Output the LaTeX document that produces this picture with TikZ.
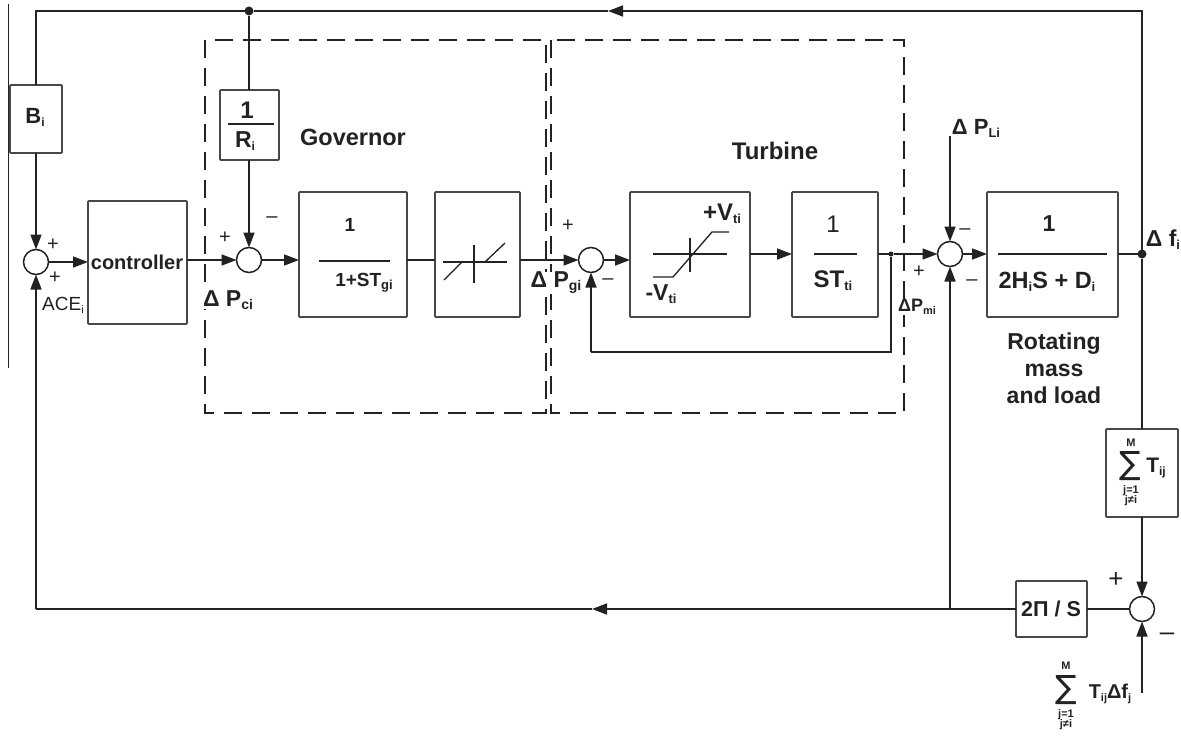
\documentclass[tikz,border=0pt]{standalone}
\usepackage{fontspec}
\setmainfont{Liberation Sans}
\newfontfamily\sigmafont{DejaVu Sans}
\usetikzlibrary{arrows.meta}
\newcommand{\dn}[2]{\raisebox{-3pt}{\fontsize{#1}{#1}\selectfont #2}}
\newcommand{\fs}[1]{\fontsize{#1}{#1}\selectfont}
\definecolor{ink}{HTML}{222222}
\definecolor{boxline}{HTML}{484848}
\tikzset{
  blockbox/.style={draw=boxline,line width=1.8pt,rounded corners=0.8pt,inner sep=0pt,outer sep=0pt,fill=white},
  sumcirc/.style={circle,draw=ink,line width=1.5pt,minimum size=25pt,inner sep=0pt,outer sep=0pt},
  wire/.style={draw=ink,line width=1.6pt},
  arr/.style={wire,-{Triangle[length=15pt,width=11pt]}},
  fracbar/.style={draw=ink,line width=1.6pt},
  thin symbol/.style={draw=ink,line width=1.3pt},
  dashbox/.style={draw=ink,line width=1.9pt,dash pattern=on 18pt off 10pt},
  lab/.style={inner sep=0pt,outer sep=0pt,text=ink,font=\bfseries\fs{20}},
  labr/.style={inner sep=0pt,outer sep=0pt,text=ink,font=\fs{19}},
  sgn/.style={inner sep=0pt,outer sep=0pt,text=ink,font=\fs{20}},
  dotj/.style={circle,fill=ink,minimum size=#1,inner sep=0pt,outer sep=0pt},
  tiny lab/.style={inner sep=0pt,outer sep=0pt,text=ink,font=\bfseries\fs{11}},
}
\begin{document}
\begin{tikzpicture}[x=1pt,y=-1pt]
\useasboundingbox[fill=white] (0,0) rectangle (1181,736);

% dashed enclosures
\draw[dashbox] (205,40) rectangle (546,413);
\draw[dashbox] (551,40) rectangle (904,413);

% blocks
\node[blockbox,minimum width=52pt,minimum height=68pt] (bi) at (36,119) {};
\node[blockbox,minimum width=99pt,minimum height=123pt] (ctrl) at (137.5,262.5) {};
\node[blockbox,minimum width=59pt,minimum height=70pt] (ri) at (249.5,125) {};
\node[blockbox,minimum width=108pt,minimum height=125pt] (gov) at (353,254.5) {};
\node[blockbox,minimum width=85pt,minimum height=125pt] (dead) at (477.5,254.5) {};
\node[blockbox,minimum width=120pt,minimum height=125pt] (sat) at (690,254.5) {};
\node[blockbox,minimum width=86pt,minimum height=125pt] (sti) at (835,254.5) {};
\node[blockbox,minimum width=131pt,minimum height=125pt] (rot) at (1052.5,254.5) {};
\node[blockbox,minimum width=72pt,minimum height=88pt] (tij) at (1142,473) {};
\node[blockbox,minimum width=71pt,minimum height=56pt] (int) at (1051.5,609) {};

% summing junctions
\node[sumcirc] (s1) at (36,262) {};
\node[sumcirc] (s2) at (249,260) {};
\node[sumcirc] (s3) at (591,260) {};
\node[sumcirc] (s4) at (950,254) {};
\node[sumcirc] (s5) at (1142,609) {};

% junction dots and free ends
\node[dotj=9pt] (jtop) at (249,11) {};
\node[dotj=5pt] (jpm) at (891,254) {};
\node[dotj=9pt] (jf) at (1142,254) {};
\coordinate (corner) at (36,11);
\coordinate (topmid) at (608,11);
\coordinate (botmid) at (592,609);
\coordinate (botcorner) at (36,609);
\coordinate (plin) at (950,136);
\coordinate (tin) at (1142,693);
\coordinate (fbk) at (591,352);

% signal labels that interrupt the dashed enclosures
\node[lab,font=\bfseries\fs{23},fill=white] (lpc) at (228,300) {Δ P\dn{14}{ci}};
\node[lab,font=\bfseries\fs{23},fill=white] (lpg) at (556,283) {Δ P\dn{14}{gi}};
\node[lab,font=\bfseries\fs{18},fill=white] (lpm) at (917,307) {ΔP\dn{11}{mi}};

% connectors
\draw[arr] (jf) |- (topmid);
\draw[wire] (topmid) -- (jtop);
\draw[wire] (jtop) -- (corner) -- (bi.north -| corner);
\draw[wire] (jtop) -- (ri.north -| jtop);
\draw[arr] (bi.south -| s1) -- (s1.north);
\draw[arr] (s1.east) -- (ctrl.west |- s1);
\draw[arr] (ctrl.east |- s2) -- (s2.west);
\draw[arr] (ri.south -| s2) -- (s2.north);
\draw[arr] (s2.east) -- (gov.west |- s2);
\draw[wire] (gov.east |- s2) -- (dead.west |- s2);
\draw[arr] (dead.east |- s3) -- (s3.west);
\draw[arr] (s3.east) -- (sat.west |- s3);
\draw[arr] (sat.east |- jpm) -- (sti.west |- jpm);
\draw[wire] (sti.east |- jpm) -- (jpm);
\draw[arr] (jpm) -- (s4.west);
\draw[wire] (jpm) |- (fbk);
\draw[arr] (fbk) -- (s3.south);
\draw[arr] (plin) -- (s4.north);
\draw[arr] (s4.east) -- (rot.west |- s4);
\draw[wire] (rot.east |- jf) -- (jf);
\draw[wire] (jf) -- (tij.north);
\draw[arr] (tij.south) -- (s5.north);
\draw[arr] (tin) -- (s5.south);
\draw[wire] (s5.west) -- (int.east);
\draw[arr] (int.west) -- (botmid);
\draw[wire] (botmid) -- (botcorner);
\draw[arr] (botcorner) -- (s1.south);
\draw[arr] (s4 |- botmid) -- (s4.south);

% left margin rule
\coordinate (ruletop) at (8,4);
\coordinate (rulebot) at (8,368);
\draw[draw=ink,line width=1pt] (ruletop) -- (rulebot);

% fraction bars
\draw[fracbar] (228,124) -- (274,124);
\draw[fracbar,line width=2pt] (319,261) -- (390,261);
\draw[fracbar] (814,254) -- (857,254);
\draw[fracbar] (998,254) -- (1107,254);

% dead-band symbol
\draw[thin symbol] (443,262) -- (507,262);
\draw[thin symbol] (474,245) -- (474,283);
\draw[thin symbol] (444,280) -- (462,262);
\draw[thin symbol] (485,262) -- (505,243);

% saturation symbol
\draw[thin symbol,line width=1.6pt] (653,254) -- (727,254);
\draw[thin symbol] (690,238) -- (690,272);
\draw[thin symbol] (653,277) -- (673,277) -- (712,232) -- (729,232);

% block texts
\node[lab,font=\bfseries\fs{22}] (tbi) at (35,117) {B\dn{12}{i}};
\node[lab,font=\bfseries\fs{20}] (tctrl) at (137,262) {controller};
\node[lab,font=\bfseries\fs{24}] (tr1) at (247,110) {1};
\node[lab,font=\bfseries\fs{23}] (tr2) at (245,141) {R\dn{12}{i}};
\node[lab,font=\bfseries\fs{23.5}] (tgov) at (353,137) {Governor};
\node[lab,font=\bfseries\fs{24}] (tturb) at (775,151) {Turbine};
\node[lab,font=\bfseries\fs{19}] (tg1) at (350,225) {1};
\node[lab,font=\bfseries\fs{19}] (tg2) at (364,283) {1+ST\dn{13}{gi}};
\node[lab,font=\bfseries\fs{24}] (tvp) at (722,214) {+V\dn{13}{ti}};
\node[lab,font=\bfseries\fs{23}] (tvm) at (661,294) {-V\dn{13}{ti}};
\node[labr,font=\fs{24}] (ts1) at (833,224) {1};
\node[lab,font=\bfseries\fs{24}] (ts2) at (833,281) {ST\dn{13}{ti}};
\node[lab,font=\bfseries\fs{23}] (trot1) at (1049,224) {1};
\node[lab,font=\bfseries\fs{23.5}] (trot2) at (1047,282) {2H\dn{13}{i}S + D\dn{13}{i}};
\node[lab,font=\bfseries\fs{23},align=center] (trot3) at (1054,368) {Rotating\\[4pt]mass\\[4pt]and load};
\node[lab,font=\bfseries\fs{21.5}] (tint) at (1051,609) {2Π / S};

% other signal labels
\node[lab,font=\bfseries\fs{22}] (lpl) at (976,128) {Δ P\dn{13}{Li}};
\node[lab,font=\bfseries\fs{23}] (lf) at (1163,240) {Δ f\dn{13}{i}};
\node[labr,font=\fs{19}] (lace) at (63,305) {ACE\dn{11}{i}};

% signs
\node[sgn] (p1) at (53,245) {+};
\node[sgn] (p2) at (55,278) {+};
\node[sgn] (p3) at (225,238) {+};
\node[sgn] (m1) at (272,220) {--};
\node[sgn] (p4) at (568,226) {+};
\node[sgn] (m2) at (608,282) {--};
\node[sgn] (m3) at (965,232) {--};
\node[sgn] (p5) at (919,272) {+};
\node[sgn] (m4) at (972,283) {--};
\node[sgn,font=\fs{26}] (p6) at (1116,580) {+};
\node[sgn,font=\fs{26}] (m5) at (1167,637) {--};

% sums
\node[inner sep=0pt,text=ink,font=\sigmafont\fs{32}] (sg1) at (1130,466) {∑};
\node[tiny lab] (sg1t) at (1131,443) {M};
\node[tiny lab,align=center] (sg1b) at (1131,496) {j=1\\[-1pt]j≠i};
\node[lab,font=\fs{21}] (tt) at (1156,468) {\textbf{T}\dn{12}{\textbf{ij}}};
\node[inner sep=0pt,text=ink,font=\sigmafont\fs{32}] (sg2) at (1066,690) {∑};
\node[tiny lab] (sg2t) at (1066,666) {M};
\node[tiny lab,align=center] (sg2b) at (1066,720) {j=1\\[-1pt]j≠i};
\node[lab,font=\fs{20}] (ttf) at (1110,694) {\textbf{T}\dn{11}{\textbf{ij}}\textbf{Δf}\dn{11}{\textbf{j}}};
\end{tikzpicture}
\end{document}
